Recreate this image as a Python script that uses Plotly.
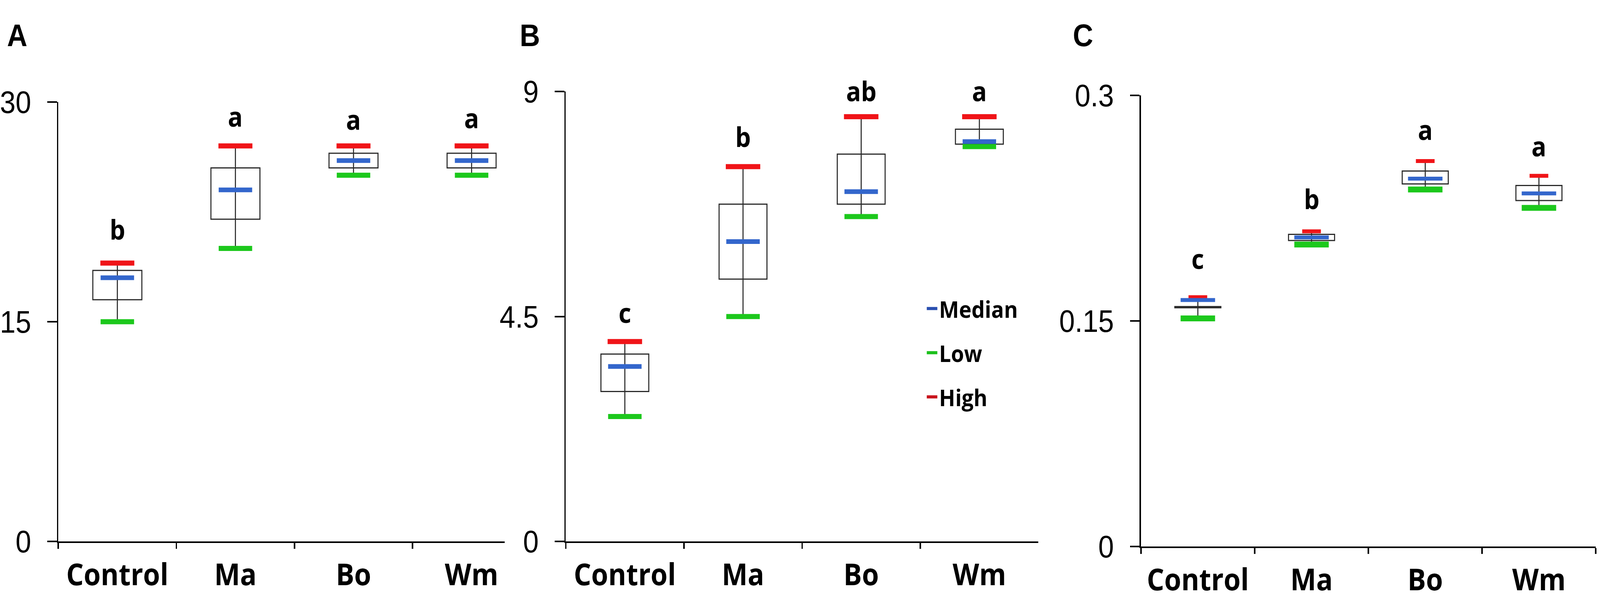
import plotly.graph_objects as go

# ---------------- data ----------------
categories = ["Control", "Ma", "Bo", "Wm"]

a_low = [15.0, 20.0, 25.0, 25.0]
a_q1 = [16.5, 22.0, 25.5, 25.5]
a_median = [18.0, 24.0, 26.0, 26.0]
a_q3 = [18.5, 25.5, 26.5, 26.5]
a_high = [19.0, 27.0, 27.0, 27.0]
a_letters = ["b", "a", "a", "a"]
a_letter_y = [20.5, 28.2, 28.0, 28.1]
a_tickvals = [0, 15, 30]
a_ticktext = ["0", "15", "30"]

b_low = [2.5, 4.5, 6.5, 7.9]
b_q1 = [3.0, 5.25, 6.75, 7.95]
b_median = [3.5, 6.0, 7.0, 8.0]
b_q3 = [3.75, 6.75, 7.75, 8.25]
b_high = [4.0, 7.5, 8.5, 8.5]
b_letters = ["c", "b", "ab", "a"]
b_letter_y = [4.34, 7.86, 8.78, 8.78]
b_tickvals = [0, 4.5, 9]
b_ticktext = ["0", "4.5", "9"]

c_low = [0.1517, 0.2008, 0.2374, 0.2252]
c_q1 = [0.1588, 0.2035, 0.2411, 0.2301]
c_median = [0.1639, 0.2056, 0.2446, 0.2348]
c_q3 = [0.1596, 0.2076, 0.2497, 0.2401]
c_high = [0.1658, 0.2096, 0.2563, 0.2465]
c_letters = ["c", "b", "a", "a"]
c_letter_y = [0.1835, 0.2232, 0.2693, 0.2583]
c_tickvals = [0, 0.15, 0.3]
c_ticktext = ["0", "0.15", "0.3"]

panel_labels = ["A", "B", "C"]
legend_names = ["Median", "Low", "High"]

# ---------------- styles / geometry ----------------
W, H = 4550, 1563
RED = "#F01418"
GREEN = "#1CC81C"
BLUE = "#3366CC"
LEG_COLORS = {"Median": "#2A4FB0", "Low": "#1CC01C", "High": "#C8141C"}

TICK_FONT = dict(family="Liberation Sans Narrow, Liberation Sans, Arial", size=80, color="black")
CAT_FONT = dict(family="Open Sans", size=78, color="black", weight="bold")
LETTER_FONT = dict(family="Open Sans", size=70, color="black", weight="bold")

panels = [
    dict(data=(a_low, a_q1, a_median, a_q3, a_high), letters=a_letters, letter_y=a_letter_y,
         tickvals=a_tickvals, ticktext=a_ticktext,
         x0=160, x1=1431, xr=[-0.5, 3.28], ytop=230, ybot=1422, yr=[0, 30],
         boxw=0.415, cap=dict(high=(69, 13), med=(68, 12), low=(68, 13)),
         label_x=12),
    dict(data=(b_low, b_q1, b_median, b_q3, b_high), letters=b_letters, letter_y=b_letter_y,
         tickvals=b_tickvals, ticktext=b_ticktext,
         x0=1605, x1=2951, xr=[-0.5, 3.5], ytop=202, ybot=1422, yr=[0, 9],
         boxw=0.405, cap=dict(high=(70, 13), med=(68, 12), low=(68, 13)),
         label_x=1472),
    dict(data=(c_low, c_q1, c_median, c_q3, c_high), letters=c_letters, letter_y=c_letter_y,
         tickvals=c_tickvals, ticktext=c_ticktext,
         x0=3243, x1=4538, xr=[-0.5, 3.5], ytop=212, ybot=1436, yr=[0, 0.3],
         boxw=0.405, cap=dict(high=(38, 10), med=(70, 10), low=(70, 15)),
         label_x=3047),
]

fig = go.Figure()
annotations = []
layout_axes = {}

for i, p in enumerate(panels):
    n = "" if i == 0 else str(i + 1)
    xa, ya = "x" + n, "y" + n
    low, q1, med, q3, high = p["data"]

    # box bodies
    fig.add_trace(go.Bar(
        x=categories, y=[t - b for t, b in zip(q3, q1)], base=q1, width=p["boxw"],
        marker=dict(color="white", line=dict(color="#2a2a2a", width=3)),
        xaxis=xa, yaxis=ya, showlegend=False, hoverinfo="skip"))
    # whiskers
    wx, wy = [], []
    for c, lo, hi in zip(categories, low, high):
        wx += [c, c, None]
        wy += [lo, hi, None]
    fig.add_trace(go.Scatter(x=wx, y=wy, mode="lines", line=dict(color="#2a2a2a", width=3),
                             xaxis=xa, yaxis=ya, showlegend=False, hoverinfo="skip"))
    # caps / median dashes
    for vals, col, key in [(high, RED, "high"), (med, BLUE, "med"), (low, GREEN, "low")]:
        size, thick = p["cap"][key]
        fig.add_trace(go.Scatter(
            x=categories, y=vals, mode="markers",
            marker=dict(symbol="line-ew", size=size, color=col, line=dict(color=col, width=thick)),
            xaxis=xa, yaxis=ya, showlegend=False, hoverinfo="skip"))

    # significance letters
    for c, txt, yv in zip(categories, p["letters"], p["letter_y"]):
        annotations.append(dict(x=c, y=yv, xref=xa, yref=ya, text=txt, showarrow=False,
                                xanchor="center", yanchor="bottom", yshift=-19, font=LETTER_FONT))
    # panel label
    annotations.append(dict(x=p["label_x"] / W, y=1.0, xref="paper", yref="paper",
                            text=panel_labels[i], showarrow=False, xanchor="left", yanchor="top",
                            font=dict(family="Liberation Sans, Arial", size=80, color="black", weight="bold")))

    key_x = "xaxis" + n
    key_y = "yaxis" + n
    layout_axes[key_x] = dict(
        domain=[p["x0"] / W, p["x1"] / W], anchor=ya, type="category",
        categoryorder="array", categoryarray=categories, range=p["xr"],
        showline=True, linecolor="black", linewidth=4, mirror=False,
        ticks="outside", tickson="boundaries", ticklen=15, tickwidth=4, tickcolor="black",
        tickfont=CAT_FONT, showgrid=False, zeroline=False, fixedrange=True,
        ticklabelstandoff=14)
    layout_axes[key_y] = dict(
        domain=[1 - p["ybot"] / H, 1 - p["ytop"] / H], anchor=xa, range=p["yr"],
        tickmode="array", tickvals=p["tickvals"], ticktext=p["ticktext"],
        showline=True, linecolor="black", linewidth=4,
        ticks="outside", ticklen=27, tickwidth=4, tickcolor="black",
        tickfont=TICK_FONT, showgrid=False, zeroline=False, fixedrange=True,
        ticklabelstandoff=30)

# legend entries (panel B)
for i, name in enumerate(legend_names):
    fig.add_trace(go.Scatter(x=[None], y=[None], mode="lines", name=name,
                             line=dict(color=LEG_COLORS[name], width=8),
                             legendgroup=name, xaxis="x2", yaxis="y2"))

fig.update_layout(
    width=W, height=H, margin=dict(l=0, r=0, t=0, b=0),
    paper_bgcolor="white", plot_bgcolor="white",
    annotations=annotations,
    showlegend=True,
    legend=dict(x=2628 / W, y=1 - 742 / H, xanchor="left", yanchor="top",
                bgcolor="rgba(0,0,0,0)", traceorder="grouped", tracegroupgap=32,
                font=dict(family="Open Sans", size=60, color="black", weight="bold"),
                itemwidth=30),
    **layout_axes,
)

post = (
    "document.documentElement.style.margin='0';"
    "document.body.style.margin='0';"
    "document.body.style.overflow='hidden';"
    "document.documentElement.style.overflow='hidden';"
    "var d=document.getElementById('{plot_id}');"
    "var sx=window.innerWidth/%d, sy=window.innerHeight/%d;"
    "d.style.position='absolute';d.style.left='0px';d.style.top='0px';"
    "d.style.transformOrigin='0 0';"
    "d.style.transform='scale('+sx+','+sy+')';" % (W, H)
)

fig.write_html("out.html", config={"displayModeBar": False}, post_script=post)
